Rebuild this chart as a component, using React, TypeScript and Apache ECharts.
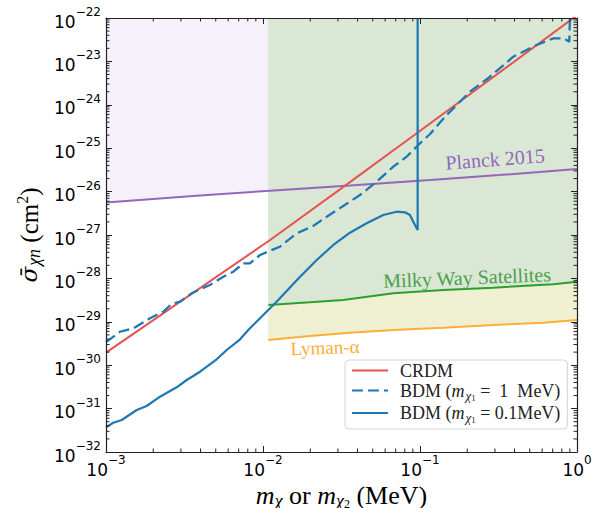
import React, { useEffect, useRef } from 'react';
import * as echarts from 'echarts';

// ---------- data (MeV, cm^2) ----------
const crdmX = [1e-3, 1.11e-2, 3.49e-2, 8.63e-2, 1];
const crdmY = [1.95e-30, 7.67e-28, 1.55e-26, 1.69e-25, 1.15e-22];

const bdm1X = [1e-3, 1.227e-3, 1.493e-3, 1.905e-3, 2.317e-3, 2.618e-3, 2.958e-3, 3.516e-3, 3.972e-3, 4.592e-3,
  5.585e-3, 6.471e-3, 7.499e-3, 8.26e-3, 9.572e-3, 1.109e-2, 1.282e-2, 1.641e-2, 2.089e-2, 2.547e-2,
  3.243e-2, 4.15e-2, 5.297e-2, 6.761e-2, 8.222e-2, 0.1, 0.1159, 0.1479, 0.208, 0.2793,
  0.3926, 0.5534, 0.7063, 0.8185, 0.8933, 0.9016];
const bdm1Y = [3.4e-30, 5.9e-30, 7.08e-30, 1.202e-29, 1.71e-29, 2.57e-29, 2.904e-29, 4.539e-29, 5.61e-29, 7.05e-29,
  1.094e-28, 1.426e-28, 2.228e-28, 2.228e-28, 3.459e-28, 4.345e-28, 5.37e-28, 1.094e-27, 1.611e-27, 2.642e-27,
  4.656e-27, 8.356e-27, 1.69e-26, 3.75e-26, 6.37e-26, 1.297e-25, 2.123e-25, 5.82e-25, 2.004e-24, 4.436e-24,
  1.282e-23, 2.388e-23, 3.404e-23, 3.404e-23, 2.844e-23, 1e-22];

const bdm01X = [1e-3, 1.112e-3, 1.259e-3, 1.57e-3, 1.816e-3, 2.208e-3, 2.818e-3, 3.266e-3, 3.972e-3, 5.07e-3,
  5.875e-3, 7.145e-3, 8.054e-3, 9.572e-3, 1.109e-2, 1.25e-2, 1.722e-2, 2.198e-2, 2.805e-2, 3.581e-2,
  4.571e-2, 5.834e-2, 7.112e-2, 8.017e-2, 8.63e-2, 9.057e-2, 9.66e-2, 9.66e-2];
const bdm01Y = [3.7e-32, 4.73e-32, 5.46e-32, 9.29e-32, 1.148e-31, 1.879e-31, 3.097e-31, 4.56e-31, 7.079e-31, 1.368e-30,
  2.239e-30, 3.954e-30, 6.471e-30, 1.205e-29, 2.046e-29, 3.177e-29, 1.094e-28, 2.655e-28, 5.888e-28, 1.13e-27,
  1.862e-27, 2.891e-27, 3.443e-27, 3.334e-27, 2.891e-27, 2.023e-27, 1.303e-27, 1e-22];

const planckX = [1e-3, 3.97e-3, 1.11e-2, 3.58e-2, 0.116, 0.32, 1];
const planckY = [5.6e-27, 8.1e-27, 1.05e-26, 1.38e-26, 1.85e-26, 2.4e-26, 3.3e-26];

const mwX = [1.08e-2, 1.99e-2, 3.24e-2, 6.76e-2, 0.141, 0.293, 0.706, 1];
const mwY = [2.44e-29, 2.81e-29, 3.18e-29, 4.54e-29, 5.41e-29, 6.11e-29, 7.31e-29, 8.39e-29];

const lymanX = [1.08e-2, 1.99e-2, 3.58e-2, 6.76e-2, 0.141, 0.293, 0.61, 1];
const lymanY = [3.81e-30, 4.71e-30, 5.61e-30, 6.47e-30, 7.31e-30, 8.43e-30, 9.53e-30, 1.1e-29];

// axis decades (log10 exponents) and minor tick factors
const xExpRange = [-3, 0];
const yExpRange = [-32, -22];
const minorFactors = [2, 3, 4, 5, 6, 7, 8, 9];

const seriesNames = ['CRDM', 'BDM (mχ1 = 1 MeV)', 'BDM (mχ1 = 0.1MeV)'];

// ---------- helpers ----------
const L = (v: number) => Math.log10(v);
const pairs = (xs: number[], ys: number[]) => xs.map((x, i) => [L(x), L(ys[i])]);
const fmtExp = (v: number) => {
  const n = Math.round(v);
  return n < 0 ? '\u2212' + -n : String(n);
};

const serif = "'Liberation Serif', 'DejaVu Serif', serif";
const sans = "'DejaVu Sans', sans-serif";

const decadesBetween = (a: number, b: number) => {
  const out: number[] = [];
  for (let d = a; d < b; d++) out.push(d);
  return out;
};
const xMinor = decadesBetween(xExpRange[0], xExpRange[1]).flatMap((d) => minorFactors.map((f) => d + Math.log10(f)));
const yMinor = decadesBetween(yExpRange[0], yExpRange[1]).flatMap((d) => minorFactors.map((f) => d + Math.log10(f)));

const tickRich = {
  b: { fontFamily: sans, fontSize: 17, lineHeight: 24, verticalAlign: 'bottom', color: '#000' },
  e: { fontFamily: sans, fontSize: 12, lineHeight: 12, verticalAlign: 'top', color: '#000' },
};

const axisCommon = {
  type: 'value',
  splitLine: { show: false },
  axisLine: { show: true, onZero: false, lineStyle: { color: '#222', width: 1.2 } },
  axisTick: { show: true, inside: true, length: 6, lineStyle: { color: '#222', width: 1 } },
  z: 10,
};

const legendText: Record<string, string> = {
  [seriesNames[0]]: '{p| }{r|CRDM}',
  [seriesNames[1]]: '{p| }{r|BDM (}{i|m}{s|χ}{ss|1}{r| =  1  MeV)}',
  [seriesNames[2]]: '{p| }{r|BDM (}{i|m}{s|χ}{ss|1}{r| = 0.1MeV)}',
};

export default function App() {
  const ref = useRef<HTMLDivElement>(null);
  useEffect(() => {
    const chart = echarts.init(ref.current!, null, { renderer: 'svg' });
    const tickStyle = { stroke: '#222', lineWidth: 1 };
    const option: any = {
      animation: false,
      backgroundColor: '#fff',
      grid: { left: 106, right: 17, top: 18, bottom: 56, containLabel: false, outerBoundsMode: 'none' },
      xAxis: [
        {
          ...axisCommon,
          position: 'bottom',
          min: xExpRange[0],
          max: xExpRange[1],
          interval: 1,
          axisLabel: { formatter: (v: number) => `{b|10}{e|${fmtExp(v)}}`, margin: 2, rich: tickRich },
          name: '{i|m}{s|χ}{r| or }{i|m}{s|χ}{ss|2}{r| (MeV)}',
          nameLocation: 'middle',
          nameGap: 21,
          nameTextStyle: {
            rich: {
              r: { fontFamily: serif, fontSize: 26, lineHeight: 28, color: '#000' },
              i: { fontFamily: serif, fontStyle: 'italic', fontSize: 26, lineHeight: 28, color: '#000' },
              s: { fontFamily: serif, fontStyle: 'italic', fontSize: 18, lineHeight: 18, verticalAlign: 'bottom', color: '#000' },
              ss: { fontFamily: serif, fontSize: 12, lineHeight: 12, verticalAlign: 'bottom', color: '#000' },
            },
          },
        },
        {
          ...axisCommon,
          position: 'top',
          min: xExpRange[0],
          max: xExpRange[1],
          interval: 1,
          axisLabel: { show: false },
        },
      ],
      yAxis: [
        {
          ...axisCommon,
          position: 'left',
          min: yExpRange[0],
          max: yExpRange[1],
          interval: 1,
          axisLabel: { formatter: (v: number) => `{b|10}{e|${fmtExp(v)}}`, margin: 5, rich: tickRich },
          name: '{i|σ\u0304}{s|χn}{r| (cm}{sup|2}{r|)}',
          nameLocation: 'middle',
          nameRotate: 90,
          nameGap: 59,
          nameTextStyle: {
            rich: {
              r: { fontFamily: serif, fontSize: 25, lineHeight: 32, color: '#000' },
              i: { fontFamily: "'DejaVu Serif', serif", fontStyle: 'italic', fontSize: 23, lineHeight: 32, color: '#000' },
              s: { fontFamily: serif, fontStyle: 'italic', fontSize: 18, verticalAlign: 'top', padding: [12, 0, 0, 1], color: '#000' },
              sup: { fontFamily: serif, fontSize: 16, verticalAlign: 'top', padding: [1, 0, 0, 0], color: '#000' },
            },
          },
        },
        {
          ...axisCommon,
          position: 'right',
          min: yExpRange[0],
          max: yExpRange[1],
          interval: 1,
          axisLabel: { show: false },
        },
      ],
      legend: {
        data: seriesNames,
        orient: 'vertical',
        left: 345,
        top: 360,
        itemWidth: 36,
        itemHeight: 12,
        itemGap: 2,
        padding: [1.5, 7, 4.5, 6],
        backgroundColor: '#fff',
        borderColor: '#d4d4d4',
        borderWidth: 1,
        borderRadius: 4,
        selectedMode: false,
        itemStyle: { opacity: 0, borderWidth: 0 },
        formatter: (name: string) => legendText[name] || name,
        textStyle: {
          rich: {
            p: { width: 7 },
            r: { fontFamily: serif, fontSize: 18, lineHeight: 25, color: '#222' },
            i: { fontFamily: serif, fontStyle: 'italic', fontSize: 18, lineHeight: 25, color: '#222' },
            s: { fontFamily: serif, fontStyle: 'italic', fontSize: 13, verticalAlign: 'top', padding: [10.5, 0, 0, 1], color: '#222' },
            ss: { fontFamily: serif, fontSize: 9, verticalAlign: 'top', padding: [15, 0, 0, 0], color: '#222' },
          },
        },
      },
      graphic: [
        {
          type: 'text', x: 495, y: 159, rotation: 0.078, z: 50,
          style: { text: 'Planck 2015', fill: '#9467bd', font: `20px ${serif}`, align: 'center', verticalAlign: 'middle', textAlign: 'center', textVerticalAlign: 'middle' },
        },
        {
          type: 'text', x: 467, y: 277.5, rotation: 0.04, z: 50,
          style: { text: 'Milky Way Satellites', fill: '#4c9f4c', font: `20px ${serif}`, align: 'center', verticalAlign: 'middle', textAlign: 'center', textVerticalAlign: 'middle' },
        },
        {
          type: 'text', x: 325, y: 347.5, rotation: 0.035, z: 50,
          style: { text: 'Lyman-α', fill: '#fbb03b', font: `19px ${serif}`, align: 'center', verticalAlign: 'middle', textAlign: 'center', textVerticalAlign: 'middle' },
        },
      ],
      series: [
        {
          name: 'Planck region', type: 'line', data: pairs(planckX, planckY), symbol: 'none', silent: true, z: 1,
          lineStyle: { width: 0, opacity: 0 }, areaStyle: { color: '#f6f0fb', opacity: 1, origin: 'end' },
        },
        {
          name: 'Lyman region', type: 'line', data: pairs(lymanX, lymanY), symbol: 'none', silent: true, z: 1,
          lineStyle: { width: 0, opacity: 0 }, areaStyle: { color: '#eff0d2', opacity: 1, origin: 'end' },
        },
        {
          name: 'MW region', type: 'line', data: pairs(mwX, mwY), symbol: 'none', silent: true, z: 1,
          lineStyle: { width: 0, opacity: 0 }, areaStyle: { color: '#d9e7d4', opacity: 1, origin: 'end' },
        },
        { name: 'Planck 2015', type: 'line', data: pairs(planckX, planckY), symbol: 'none', z: 3, lineStyle: { color: '#9467bd', width: 2 } },
        { name: 'Milky Way Satellites', type: 'line', data: pairs(mwX, mwY), symbol: 'none', z: 3, lineStyle: { color: '#2ca02c', width: 2 } },
        { name: 'Lyman-α', type: 'line', data: pairs(lymanX, lymanY), symbol: 'none', z: 3, lineStyle: { color: '#fdae38', width: 2 } },
        { name: seriesNames[0], type: 'line', data: pairs(crdmX, crdmY), symbol: 'none', z: 4, color: '#e6524f', lineStyle: { color: '#e6524f', width: 2 } },
        { name: seriesNames[1], type: 'line', data: pairs(bdm1X, bdm1Y), symbol: 'none', z: 5, color: '#1f77b4', lineStyle: { color: '#1f77b4', width: 2.3, type: [11, 5] } },
        { name: seriesNames[2], type: 'line', data: pairs(bdm01X, bdm01Y), symbol: 'none', z: 5, color: '#1f77b4', lineStyle: { color: '#1f77b4', width: 2.2 } },
        {
          name: 'x minor ticks', type: 'custom', silent: true, z: 10, clip: false,
          data: xMinor.map((v) => [v, yExpRange[0]]),
          renderItem: (params: any, api: any) => {
            const cs = params.coordSys;
            const px = api.coord([api.value(0), yExpRange[0]])[0];
            return {
              type: 'group',
              children: [
                { type: 'line', shape: { x1: px, y1: cs.y + cs.height, x2: px, y2: cs.y + cs.height - 3.5 }, style: tickStyle },
                { type: 'line', shape: { x1: px, y1: cs.y, x2: px, y2: cs.y + 3.5 }, style: tickStyle },
              ],
            };
          },
        },
        {
          name: 'y minor ticks', type: 'custom', silent: true, z: 10, clip: false,
          data: yMinor.map((v) => [xExpRange[0], v]),
          renderItem: (params: any, api: any) => {
            const cs = params.coordSys;
            const py = api.coord([xExpRange[0], api.value(1)])[1];
            return {
              type: 'group',
              children: [
                { type: 'line', shape: { x1: cs.x, y1: py, x2: cs.x + 3.5, y2: py }, style: tickStyle },
                { type: 'line', shape: { x1: cs.x + cs.width, y1: py, x2: cs.x + cs.width - 3.5, y2: py }, style: tickStyle },
              ],
            };
          },
        },
      ],
    };
    chart.setOption(option);
    return () => chart.dispose();
  }, []);
  return <div ref={ref} style={{ position: 'fixed', left: 0, top: 0, width: 594, height: 508, background: '#fff' }} />;
}
